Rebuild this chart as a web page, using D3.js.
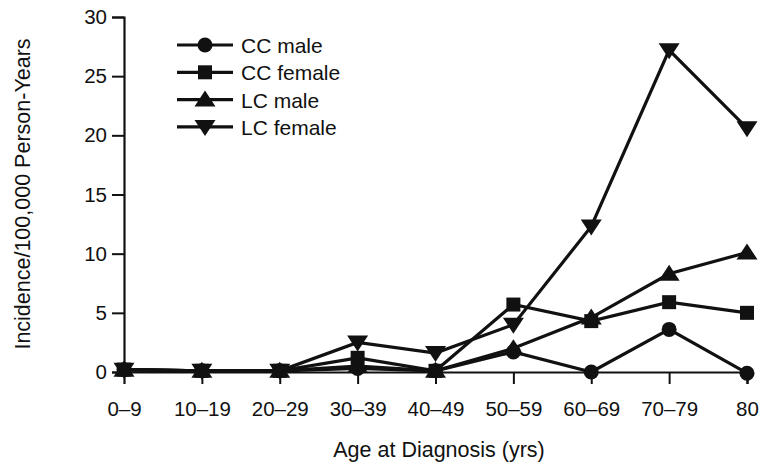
<!DOCTYPE html>
<html>
<head>
<meta charset="utf-8">
<script src="https://cdn.jsdelivr.net/npm/d3@7"></script>
<style>
  body { margin: 0; background: #fff; }
  text { font-family: "Liberation Sans", Arial, sans-serif; fill: #111; }
</style>
</head>
<body>
<svg id="chart" width="763" height="463"></svg>
<script>
const ageGroups = ["0–9", "10–19", "20–29", "30–39", "40–49", "50–59", "60–69", "70–79", "80"];
const ccMale   = [0.2, 0.1, 0.1, 0.3, 0.1, 1.7, 0.0, 3.6, -0.1];
const ccFemale = [0.2, 0.1, 0.1, 1.2, 0.1, 5.7, 4.3, 5.9, 5.0];
const lcMale   = [0.2, 0.1, 0.1, 0.5, 0.1, 2.0, 4.6, 8.3, 10.1];
const lcFemale = [0.2, 0.1, 0.1, 2.5, 1.6, 4.0, 12.3, 27.2, 20.6];
const yTicks = [0, 5, 10, 15, 20, 25, 30];

const seriesList = [
  { name: "CC male", values: ccMale, shape: "circle" },
  { name: "CC female", values: ccFemale, shape: "square" },
  { name: "LC male", values: lcMale, shape: "up" },
  { name: "LC female", values: lcFemale, shape: "down" }
];

const svg = d3.select("#chart");

let x = d3.scalePoint().domain(ageGroups).range([124, 747]);
let y = d3.scaleLinear().domain([0, 30]).range([372, 17]);

// axes
let yAxis = svg.append("g")
  .attr("transform", "translate(124,0)")
  .call(d3.axisLeft(y).tickValues(yTicks).tickSize(12).tickPadding(5));
let xAxis = svg.append("g")
  .attr("transform", "translate(0,372)")
  .call(d3.axisBottom(x).tickSize(12).tickPadding(17));

[yAxis, xAxis].forEach(a => {
  a.select(".domain").attr("stroke", "#111").attr("stroke-width", 2.2);
  a.selectAll(".tick line").attr("stroke", "#111").attr("stroke-width", 2);
  a.selectAll(".tick text").attr("font-size", 20.5).style("font-family", "'Liberation Sans', Arial, sans-serif").attr("fill", "#111");
});
xAxis.selectAll(".tick line").filter(d => d === ageGroups[0]).remove();

// axis labels
svg.append("text")
  .attr("x", 439).attr("y", 457)
  .attr("text-anchor", "middle")
  .attr("font-size", 21.5)
  .text("Age at Diagnosis (yrs)");

svg.append("text")
  .attr("transform", "translate(30,194) rotate(-90)")
  .attr("text-anchor", "middle")
  .attr("font-size", 21.5)
  .text("Incidence/100,000 Person-Years");

function marker(sel, shape) {
  if (shape === "circle") {
    sel.append("circle").attr("r", 7.5);
  } else if (shape === "square") {
    sel.append("rect").attr("x", -7).attr("y", -7).attr("width", 14).attr("height", 14);
  } else if (shape === "up") {
    sel.append("path").attr("d", "M0,-9L10.5,7L-10.5,7Z");
  } else {
    sel.append("path").attr("d", "M0,9L10.5,-7L-10.5,-7Z");
  }
}

const line = d3.line().x((d, i) => x(ageGroups[i])).y(d => y(d));

seriesList.forEach(s => {
  svg.append("path")
    .attr("d", line(s.values))
    .attr("fill", "none")
    .attr("stroke", "#111")
    .attr("stroke-width", 3.2);
});
seriesList.forEach(s => {
  s.values.forEach((v, i) => {
    let g = svg.append("g")
      .attr("transform", `translate(${x(ageGroups[i])},${y(v)})`)
      .attr("fill", "#111");
    marker(g, s.shape);
  });
});

// legend
const legend = svg.append("g").attr("transform", "translate(177,45)");
seriesList.forEach((s, i) => {
  let row = legend.append("g").attr("transform", `translate(0,${i * 27.3})`);
  row.append("line").attr("x1", 0).attr("x2", 56).attr("stroke", "#111").attr("stroke-width", 3.2);
  let m = row.append("g").attr("transform", "translate(28,0)").attr("fill", "#111");
  marker(m, s.shape);
  row.append("text").attr("x", 64).attr("y", 8).attr("font-size", 21).text(s.name);
});
</script>
</body>
</html>
